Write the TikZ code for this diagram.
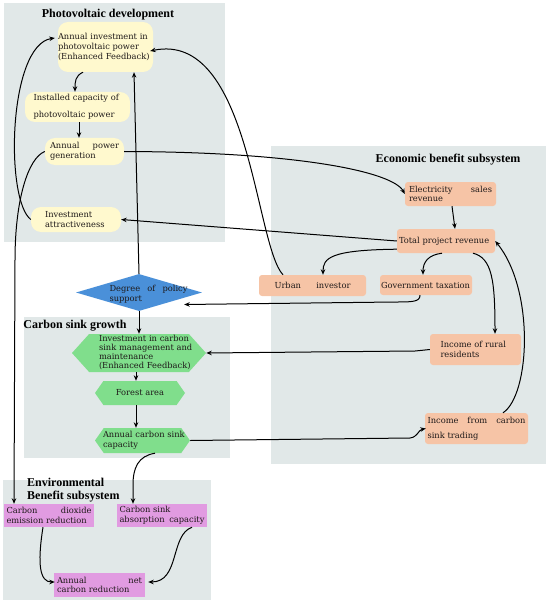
\documentclass[tikz,border=0pt]{standalone}
\usepackage{fontspec}
\setmainfont{DejaVu Serif}
\newfontfamily\ttlfam{Liberation Serif}
\usetikzlibrary{shapes.geometric,shapes.symbols,arrows.meta,calc}
\definecolor{panelgray}{RGB}{225,232,232}
\definecolor{pvyellow}{RGB}{255,249,206}
\definecolor{ecosalmon}{RGB}{246,196,166}
\definecolor{polblue}{RGB}{74,144,217}
\definecolor{sinkgreen}{RGB}{128,222,140}
\definecolor{envpink}{RGB}{225,155,225}
\definecolor{inkdark}{RGB}{30,25,25}
\hyphenpenalty=10000
\begin{document}
\begin{tikzpicture}[x=1pt,y=-1pt,
  font=\fontsize{8.3}{9.6}\selectfont, text=inkdark,
  panel/.style={fill=panelgray},
  ttl/.style={font=\ttlfam\bfseries\fontsize{12}{13}\selectfont, inner sep=0pt, text=black},
  ybox/.style={fill=pvyellow, rounded corners=10pt, inner sep=1pt, align=left},
  sbox/.style={fill=ecosalmon, rounded corners=3pt, inner sep=1pt, align=left},
  pbox/.style={fill=envpink, inner sep=1pt, align=left},
  hexa/.style={signal, signal to=east and west, fill=sinkgreen, inner sep=0pt},
  txt/.style={inner sep=0pt, align=left},
  arr/.style={-{Stealth[length=5.5pt,width=4.5pt]}, line width=1pt}]
\useasboundingbox (0,0) rectangle (550,604);
% panels
\fill[panel] (4,3) rectangle (225,242);
\fill[panel] (271,146) rectangle (546,464);
\fill[panel] (24,317) rectangle (230,458);
\fill[panel] (3,480) rectangle (211,600);
% titles
\node[ttl] (t1) at (108,15) {Photovoltaic development};
\node[ttl] (t2) at (448,160) {Economic benefit subsystem};
\node[ttl] (t3) at (75,326) {Carbon sink growth};
\node[ttl, align=left, anchor=west] (t4) at (27,490) {Environmental\\Benefit subsystem};
% photovoltaic
\node[ybox, inner xsep=0pt, minimum width=95, minimum height=50, text width=95] (A1) at (105.5,47) {Annual investment in\\photovoltaic power\\(Enhanced Feedback)};
\node[ybox, minimum width=105, minimum height=30, text width=88] (A2) at (77.5,107) {Installed capacity of\\[7pt]photovoltaic power};
\node[ybox, minimum width=79, minimum height=27, text width=69] (A3) at (84.5,151.5) {Annual\hfill power\\generation};
\node[ybox, minimum width=90, minimum height=25, text width=62] (A4) at (76,219.5) {Investment\\attractiveness};
% economic
\node[sbox, minimum width=91, minimum height=24, text width=83] (E1) at (450.5,194) {Electricity\hfill sales\\revenue};
\node[sbox, minimum width=98, minimum height=24, text width=94] (E2) at (446,241) {Total project revenue};
\node[sbox, minimum width=107, minimum height=21, text width=76] (E3) at (312.5,285.5) {Urban\hfill investor};
\node[sbox, minimum width=92, minimum height=20, text width=90] (E4) at (426,285) {Government taxation};
\node[sbox, minimum width=91, minimum height=31, text width=70] (E5) at (475.5,349.5) {Income of rural\\residents};
\node[sbox, minimum width=103, minimum height=31, text width=98] (E6) at (476.5,428.5) {Income\hfill from\hfill carbon\\[5pt]sink trading};
% policy + carbon sink
\node[diamond, fill=polblue, minimum width=126, minimum height=37, inner sep=0pt] (D) at (139,292.5) {};
\node[txt, text width=78] (Dt) at (148.5,294) {Degree\hfill of\hfill policy\\support};
\node[hexa, minimum width=134, minimum height=38, signal pointer angle=96] (C1) at (139,353) {};
\node[txt, text width=96, font=\fontsize{8.3}{9.3}\selectfont] (C1t) at (147,352.5) {Investment in carbon\\sink management and\\maintenance\\(Enhanced Feedback)};
\node[hexa, minimum width=90, minimum height=24, signal pointer angle=110] (C2) at (140,393) {};
\node[txt] (C2t) at (140,393) {Forest area};
\node[hexa, minimum width=95, minimum height=25, signal pointer angle=110] (C3) at (142.5,440.5) {};
\node[txt, text width=86] (C3t) at (146,440.5) {Annual carbon sink\\capacity};
% environmental
\node[pbox, minimum width=90, minimum height=23, text width=85] (V1) at (49,515.5) {Carbon\hfill dioxide\\emission reduction};
\node[pbox, minimum width=90, minimum height=23, text width=85] (V2) at (162,515.5) {Carbon sink\\absorption\hfill capacity};
\node[pbox, minimum width=91, minimum height=24, text width=85] (V3) at (99.5,585) {Annual\hfill net\\carbon reduction};
% connectors
\draw[arr] (83,0 |- A1.south) .. controls (75,76) and (75,82) .. (75,0 |- A2.north);
\draw[arr] (79,0 |- A2.south) -- (79,0 |- A3.north);
\draw[arr] (A4.west) .. controls (5,200) and (8,45) .. ($(A1.west)+(-3,-9)$);
\draw[arr] (D.north) -- (134,0 |- A1.south);
\draw[arr] (283,0 |- E3.north) .. controls (255,245) and (250,30) .. ($(A1.east)+(-3,4)$);
\draw[arr] (A3.east) .. controls (300,152) and (393,172) .. (E1.west);
\draw[arr] (452,0 |- E1.south) -- (455,0 |- E2.north);
\draw[arr] (E2.west) -- (A4.east);
\draw[arr] ($(E2.south west)+(0,-4)$) .. controls (330,250) and (323,258) .. (323,0 |- E3.north);
\draw[arr] (442,0 |- E2.south) .. controls (428,255) and (423,262) .. (423,0 |- E4.north);
\draw[arr] (473,0 |- E2.south) .. controls (492,258) and (495,280) .. (495,0 |- E5.north);
\draw[arr] (420,0 |- E4.south) .. controls (420,302) and (412,302) .. (395,302) -- ($(D.east)+(-18,12)$);
\draw[arr] (E5.west) .. controls (425,350) .. (415,351) -- (C1.east);
\draw[arr] (C3.east) -- (410,438) .. controls (418,437) and (418,430) .. ($(E6.west)+(1,0)$);
\draw[arr] (503,0 |- E6.north) .. controls (530,395) and (535,290) .. (E2.east);
\draw[arr] (D.south) -- (C1.north);
\draw[arr] (136,0 |- C1.south) -- (136,0 |- C2.north);
\draw[arr] (136,0 |- C2.south) -- (136,0 |- C3.north);
\draw[arr] (A3.west) .. controls (28,158) and (15,200) .. (15,260) -- (14,0 |- V1.north);
\draw[arr] (155,0 |- C3.south) .. controls (138,456) and (133,468) .. (133,485) -- (133,0 |- V2.north);
\draw[arr] (43,0 |- V1.south) .. controls (37,565) and (40,582) .. ($(V3.west)+(1,-3)$);
\draw[arr] (192,0 |- V2.south) .. controls (170,535) and (180,582) .. ($(V3.east)+(3,-3)$);
\end{tikzpicture}
\end{document}
